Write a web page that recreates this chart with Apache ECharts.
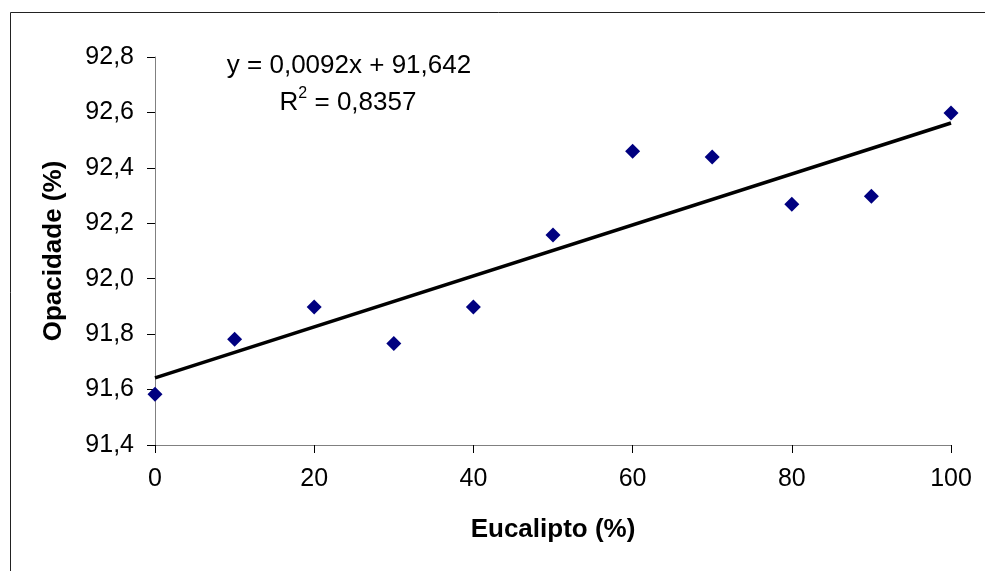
<!DOCTYPE html>
<html>
<head>
<meta charset="utf-8">
<script src="https://cdn.jsdelivr.net/npm/echarts@6/dist/echarts.min.js"></script>
<style>
  html, body { margin: 0; padding: 0; background: #fff; }
  #chart { width: 985px; height: 571px; }
</style>
</head>
<body>
<div id="chart"></div>
<script>
// eucalipto (%) e opacidade (%)
var eucalipto = [0, 10, 20, 30, 40, 50, 60, 70, 80, 90, 100];
var opacidade = [91.583, 91.782, 91.898, 91.766, 91.898, 92.158, 92.46, 92.439, 92.269, 92.298, 92.598];

// linha de tendência: y = 0,0092x + 91,642
var slope = 0.0092;
var intercept = 91.642;
var trendX = [0, 100];
var eqText = 'y = 0,0092x + 91,642';
var r2Text = '0,8357';

var yTicks = { min: 91.4, max: 92.8, step: 0.2 };
var xTicks = { min: 0, max: 100, step: 20 };

var fontFam = '"Liberation Sans", Arial, sans-serif';

var pts = [];
for (var i = 0; i < eucalipto.length; i++) {
	pts.push([eucalipto[i], opacidade[i]]);
}
var trend = trendX.map(function(x) { return [x, slope * x + intercept]; });

var chart = echarts.init(document.getElementById('chart'));
chart.setOption({
	animation: false,
	backgroundColor: '#fff',
	grid: { left: 155, right: 34, top: 57, bottom: 126 },
	xAxis: {
		type: 'value',
		min: xTicks.min, max: xTicks.max, interval: xTicks.step,
		name: 'Eucalipto (%)',
		nameLocation: 'middle',
		nameGap: 72,
		nameTextStyle: { fontFamily: fontFam, fontSize: 26, fontWeight: 'bold', color: '#000' },
		axisLine: { lineStyle: { color: '#808080', width: 1 } },
		axisTick: { show: true, length: 8, inside: false, lineStyle: { color: '#000' } },
		axisLabel: { margin: 22, fontFamily: fontFam, fontSize: 25, color: '#000' },
		splitLine: { show: false }
	},
	yAxis: {
		type: 'value',
		min: yTicks.min, max: yTicks.max, interval: yTicks.step,
		name: 'Opacidade (%)',
		nameLocation: 'middle',
		nameGap: 88,
		nameTextStyle: { fontFamily: fontFam, fontSize: 26, fontWeight: 'bold', color: '#000' },
		axisLine: { show: true, lineStyle: { color: '#808080', width: 1 } },
		axisTick: { show: true, length: 8, lineStyle: { color: '#000' } },
		axisLabel: {
			margin: 21, fontFamily: fontFam, fontSize: 25, color: '#000',
			formatter: function(v) { return v.toFixed(1).replace('.', ','); }
		},
		splitLine: { show: false }
	},
	graphic: [
		{
			type: 'rect', silent: true, z: -1,
			shape: { x: 10.5, y: 12.5, width: 1000, height: 600 },
			style: { fill: 'none', stroke: '#222', lineWidth: 1 }
		},
		{
			type: 'text', silent: true,
			style: {
				x: 349, y: 66, text: eqText, align: 'center', verticalAlign: 'middle',
				font: '26px ' + fontFam, fill: '#000'
			}
		},
		{
			type: 'text', silent: true,
			style: {
				x: 348, y: 103, align: 'center', verticalAlign: 'middle',
				text: '{b|R}{s|2}{b| = ' + r2Text + '}',
				fill: '#000',
				rich: {
					b: { fontFamily: fontFam, fontSize: 26, lineHeight: 34, color: '#000' },
					s: { fontFamily: fontFam, fontSize: 16, lineHeight: 16, color: '#000', verticalAlign: 'top' }
				}
			}
		}
	],
	series: [
		{
			type: 'line',
			data: trend,
			showSymbol: false,
			lineStyle: { color: '#000', width: 3.5 },
			z: 2
		},
		{
			type: 'scatter',
			data: pts,
			symbol: 'diamond',
			symbolSize: [15, 15],
			itemStyle: { color: '#000080', opacity: 1 },
			z: 3
		}
	]
});
</script>
</body>
</html>
